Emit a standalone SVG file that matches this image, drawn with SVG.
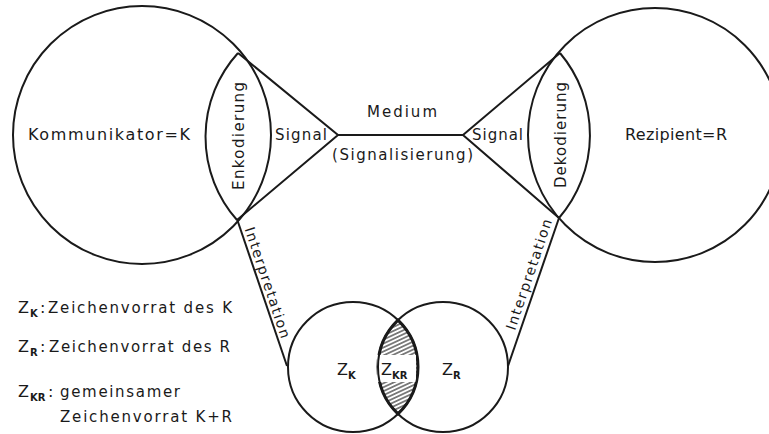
<svg xmlns="http://www.w3.org/2000/svg" width="769" height="434" viewBox="0 0 769 434">
<style>
.ln{fill:none;stroke:#1a1a1a;stroke-width:2}
.t{font-family:"DejaVu Sans","Liberation Sans",Arial,sans-serif;fill:#1a1a1a;font-size:15px}
.big{font-size:16px}
.sub{font-size:10px;font-weight:bold}
.it{font-size:14px}
</style>
<defs>
<pattern id="hatch" width="3.6" height="3.6" patternUnits="userSpaceOnUse" patternTransform="rotate(-25)">
<path d="M0 1.8 H3.6" stroke="#222" stroke-width="1.1"/>
</pattern>
</defs>
<rect width="769" height="434" fill="#fff"/>

<g id="connectors">
<path class="ln" d="M238 53 L338 135 L237 220"/>
<path class="ln" d="M338 135 H463"/>
<path class="ln" d="M560 53 L463 135 L559 218"/>
<path class="ln" d="M237 219 L287 366"/>
<path class="ln" d="M559 218 L508 366"/>
</g>

<g id="kommunikator">
<circle class="ln" cx="142" cy="135" r="129"/>
<text class="t big" x="28" y="140" textLength="162" lengthAdjust="spacing">Kommunikator=K</text>
</g>

<g id="enkodierung">
<path class="ln" d="M238 53 A125 125 0 0 0 237 220"/>
<text class="t" transform="translate(244,136) rotate(-90)" text-anchor="middle" textLength="108" lengthAdjust="spacing">Enkodierung</text>
</g>

<g id="signal-left">
<text class="t" x="275" y="140" textLength="52" lengthAdjust="spacing">Signal</text>
</g>

<g id="medium">
<text class="t" x="367" y="117" textLength="70" lengthAdjust="spacing">Medium</text>
<text class="t" x="332" y="160" textLength="141" lengthAdjust="spacing">(Signalisierung)</text>
</g>

<g id="signal-right">
<text class="t" x="472" y="140" textLength="51" lengthAdjust="spacing">Signal</text>
</g>

<g id="dekodierung">
<path class="ln" d="M560 53 A127 127 0 0 1 559 218"/>
<text class="t" transform="translate(566,135) rotate(-90)" text-anchor="middle" textLength="106" lengthAdjust="spacing">Dekodierung</text>
</g>

<g id="rezipient">
<circle class="ln" cx="655" cy="135" r="127"/>
<text class="t big" x="625" y="140" textLength="102" lengthAdjust="spacing">Rezipient=R</text>
</g>

<g id="interpretation-left">
<text class="t it" transform="translate(244.6,229) rotate(71.6)" textLength="116" lengthAdjust="spacing">Interpretation</text>
</g>

<g id="interpretation-right">
<text class="t it" transform="translate(515,331) rotate(-71.3)" textLength="116" lengthAdjust="spacing">Interpretation</text>
</g>

<g id="zkr">
<path d="M398 320.1 A65 65 0 0 1 398 413.9 A65 65 0 0 1 398 320.1 Z" fill="url(#hatch)" stroke="#1a1a1a" stroke-width="3"/>
<rect x="377" y="355" width="39" height="27" fill="#fff"/>
<text class="t big" x="381" y="375">Z</text>
<text class="t sub" x="392" y="379">KR</text>
</g>

<g id="zk">
<circle class="ln" cx="353" cy="367" r="65"/>
<text class="t big" x="337" y="375">Z</text>
<text class="t sub" x="348" y="379">K</text>
</g>

<g id="zr">
<circle class="ln" cx="443" cy="367" r="65"/>
<text class="t big" x="442" y="375">Z</text>
<text class="t sub" x="453" y="379">R</text>
</g>

<g id="legend">
<text class="t big" x="18" y="313">Z</text>
<text class="t sub" x="30" y="317">K</text>
<text class="t big" x="40" y="313">:</text>
<text class="t" x="48" y="313" textLength="184" lengthAdjust="spacing">Zeichenvorrat des K</text>
<text class="t big" x="18" y="352">Z</text>
<text class="t sub" x="30" y="356">R</text>
<text class="t big" x="40" y="352">:</text>
<text class="t" x="49" y="352" textLength="181" lengthAdjust="spacing">Zeichenvorrat des R</text>
<text class="t big" x="18" y="397">Z</text>
<text class="t sub" x="30" y="401">KR</text>
<text class="t big" x="48" y="397">:</text>
<text class="t" x="60" y="397" textLength="120" lengthAdjust="spacing">gemeinsamer</text>
<text class="t" x="60" y="422" textLength="172" lengthAdjust="spacing">Zeichenvorrat K+R</text>
</g>
</svg>
